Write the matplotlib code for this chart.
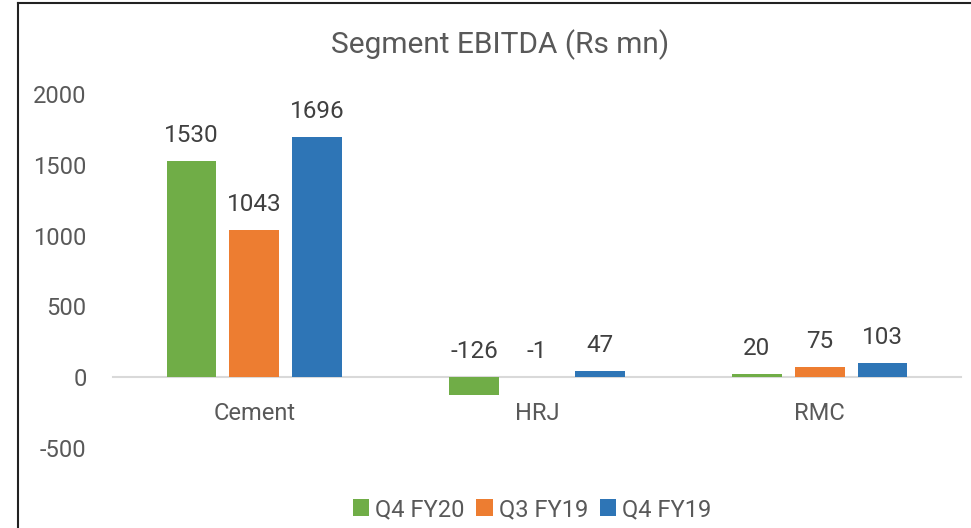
import matplotlib
matplotlib.use("Agg")
import matplotlib.pyplot as plt
from matplotlib.lines import Line2D
from matplotlib.patches import Patch
import numpy as np

# data
categories = ["Cement", "HRJ", "RMC"]
series_names = ["Q4 FY20", "Q3 FY19", "Q4 FY19"]
q4_fy20 = [1530, -126, 20]
q3_fy19 = [1043, -1, 75]
q4_fy19 = [1696, 47, 103]
colors = ["#70AD47", "#ED7D31", "#2E75B6"]
yticks = [-500, 0, 500, 1000, 1500, 2000]

plt.rcParams['font.family'] = ['Roboto', 'DejaVu Sans']
plt.rcParams['axes.unicode_minus'] = False

fig = plt.figure(figsize=(9.71, 5.28), dpi=100)
ax = fig.add_axes([0.1164, 0.1515, 0.8733, 0.6705])

x = np.arange(len(categories))
width = 0.176
step = 0.222
series = [q4_fy20, q3_fy19, q4_fy19]
for i, (vals, col) in enumerate(zip(series, colors)):
    pos = x + (i - 1) * step
    ax.bar(pos, vals, width=width, color=col, zorder=2)
    for p, v in zip(pos, vals):
        ax.annotate(str(v), (p, max(v, 0)), xytext=(0, 10), textcoords="offset points",
                    ha="center", va="bottom", fontsize=17.5, color="#404040")

ax.set_xlim(-0.5, len(categories) - 0.5)
ax.set_ylim(-500, 2000)
ax.set_yticks(yticks)
ax.set_xticks(x)
ax.set_xticklabels(categories)

for s in ["top", "right", "left"]:
    ax.spines[s].set_visible(False)
ax.spines["bottom"].set_position(("data", 0))
ax.spines["bottom"].set_color("#D9D9D9")
ax.spines["bottom"].set_linewidth(1.5)
ax.spines["bottom"].set_zorder(1)
ax.tick_params(axis="x", length=0, pad=18, labelsize=17, labelcolor="#595959")
ax.tick_params(axis="y", length=0, pad=19, labelsize=17, labelcolor="#595959")

fig.text(0.515, 0.915, "Segment EBITDA (Rs mn)", ha="center", va="center",
         fontsize=21.5, color="#595959")

handles = [Patch(facecolor=c, edgecolor="none") for c in colors]
leg = fig.legend(handles, series_names, loc="center", bbox_to_anchor=(0.548, 0.035),
                 ncol=3, frameon=False, prop={'size': 17},
                 handlelength=0.7, handleheight=0.7, handletextpad=0.25, columnspacing=0.5)
for t in leg.get_texts():
    t.set_color("#595959")

# outer chart border (left and top edges visible)
fig.add_artist(Line2D([0.0185, 0.0185], [0, 0.995], transform=fig.transFigure, color="#222222", lw=1.5))
fig.add_artist(Line2D([0.0185, 1.0], [0.995, 0.995], transform=fig.transFigure, color="#222222", lw=1.5))

fig.savefig("out.png", dpi=100)
